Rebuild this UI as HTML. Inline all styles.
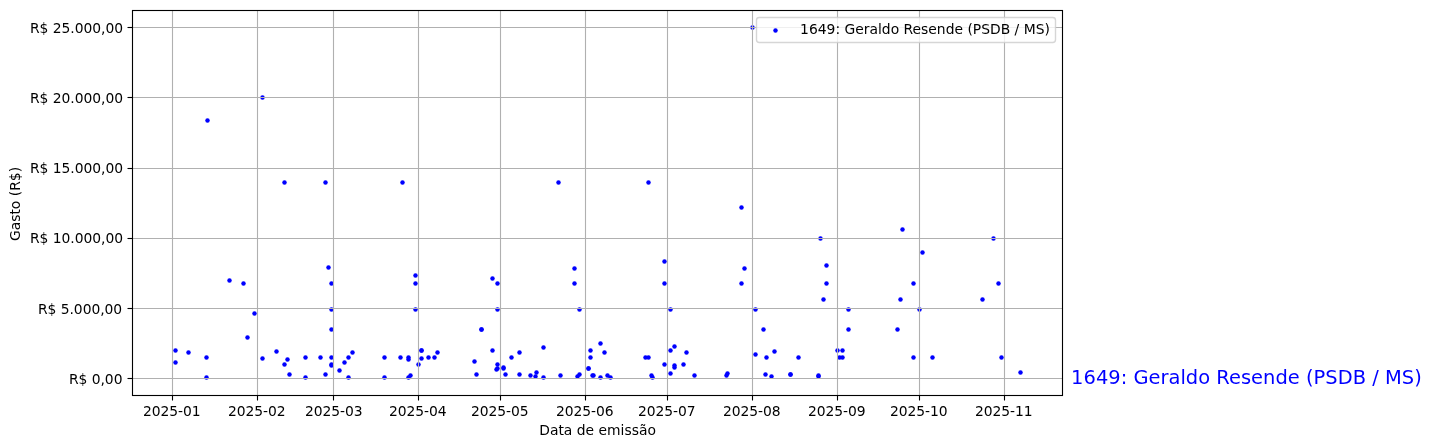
<!DOCTYPE html>
<html lang="pt-BR">
<head>
<meta charset="utf-8">
<title>1649: Geraldo Resende (PSDB / MS)</title>
<style>
html,body{margin:0;padding:0;background:#fff;}
body{width:1431px;height:448px;overflow:hidden;}
svg{display:block;}
text{font-family:"DejaVu Sans","Liberation Sans",sans-serif;font-size:13.889px;fill:#000;}
.g{stroke:#b0b0b0;stroke-width:1.11;fill:none;}
.s{stroke:#000;stroke-width:1.11;fill:none;stroke-linecap:square;}
.t{stroke:#000;stroke-width:1.11;fill:none;}
.p circle{fill:#0000ff;}
</style>
</head>
<body>
<svg width="1431" height="448" viewBox="0 0 1431 448">
<rect x="0" y="0" width="1431" height="448" fill="#ffffff"/>

<g class="p">
<circle cx="207.5" cy="120.5" r="2.25"/>
<circle cx="262.5" cy="97.5" r="2.25"/>
<circle cx="284.5" cy="182.5" r="2.25"/>
<circle cx="325.5" cy="182.5" r="2.25"/>
<circle cx="229.5" cy="280.5" r="2.25"/>
<circle cx="243.5" cy="283.5" r="2.25"/>
<circle cx="254.5" cy="313.5" r="2.25"/>
<circle cx="328.5" cy="267.5" r="2.25"/>
<circle cx="331.5" cy="283.5" r="2.25"/>
<circle cx="331.5" cy="309.5" r="2.25"/>
<circle cx="175.5" cy="350.5" r="2.25"/>
<circle cx="175.5" cy="362.5" r="2.25"/>
<circle cx="188.5" cy="352.5" r="2.25"/>
<circle cx="206.5" cy="357.5" r="2.25"/>
<circle cx="206.5" cy="377.5" r="2.25"/>
<circle cx="247.5" cy="337.5" r="2.25"/>
<circle cx="262.5" cy="358.5" r="2.25"/>
<circle cx="276.5" cy="351.5" r="2.25"/>
<circle cx="287.5" cy="359.5" r="2.25"/>
<circle cx="284.5" cy="364.5" r="2.25"/>
<circle cx="289.5" cy="374.5" r="2.25"/>
<circle cx="305.5" cy="357.5" r="2.25"/>
<circle cx="305.5" cy="377.5" r="2.25"/>
<circle cx="320.5" cy="357.5" r="2.25"/>
<circle cx="325.5" cy="374.5" r="2.25"/>
<circle cx="331.5" cy="329.5" r="2.25"/>
<circle cx="331.5" cy="357.5" r="2.25"/>
<circle cx="331.5" cy="364.5" r="2.25"/>
<circle cx="331.5" cy="365.5" r="2.25"/>
<circle cx="339.5" cy="370.5" r="2.25"/>
<circle cx="344.5" cy="362.5" r="2.25"/>
<circle cx="348.5" cy="357.5" r="2.25"/>
<circle cx="348.5" cy="377.5" r="2.25"/>
<circle cx="352.5" cy="352.5" r="2.25"/>
<circle cx="402.5" cy="182.5" r="2.25"/>
<circle cx="558.5" cy="182.5" r="2.25"/>
<circle cx="415.5" cy="275.5" r="2.25"/>
<circle cx="415.5" cy="283.5" r="2.25"/>
<circle cx="415.5" cy="309.5" r="2.25"/>
<circle cx="492.5" cy="278.5" r="2.25"/>
<circle cx="497.5" cy="283.5" r="2.25"/>
<circle cx="497.5" cy="309.5" r="2.25"/>
<circle cx="574.5" cy="268.5" r="2.25"/>
<circle cx="574.5" cy="283.5" r="2.25"/>
<circle cx="579.5" cy="309.5" r="2.25"/>
<circle cx="384.5" cy="357.5" r="2.25"/>
<circle cx="384.5" cy="377.5" r="2.25"/>
<circle cx="400.5" cy="357.5" r="2.25"/>
<circle cx="408.5" cy="357.5" r="2.25"/>
<circle cx="408.5" cy="359.5" r="2.25"/>
<circle cx="408.5" cy="377.5" r="2.25"/>
<circle cx="410.5" cy="375.5" r="2.25"/>
<circle cx="418.5" cy="364.5" r="2.25"/>
<circle cx="421.5" cy="350.5" r="2.25"/>
<circle cx="421.5" cy="350.5" r="2.25"/>
<circle cx="421.5" cy="358.5" r="2.25"/>
<circle cx="428.5" cy="357.5" r="2.25"/>
<circle cx="434.5" cy="357.5" r="2.25"/>
<circle cx="437.5" cy="352.5" r="2.25"/>
<circle cx="474.5" cy="361.5" r="2.25"/>
<circle cx="476.5" cy="374.5" r="2.25"/>
<circle cx="481.5" cy="329.5" r="2.25"/>
<circle cx="481.5" cy="329.5" r="2.25"/>
<circle cx="492.5" cy="350.5" r="2.25"/>
<circle cx="497.5" cy="364.5" r="2.25"/>
<circle cx="496.5" cy="369.5" r="2.25"/>
<circle cx="497.5" cy="368.5" r="2.25"/>
<circle cx="503.5" cy="367.5" r="2.25"/>
<circle cx="503.5" cy="368.5" r="2.25"/>
<circle cx="505.5" cy="374.5" r="2.25"/>
<circle cx="511.5" cy="357.5" r="2.25"/>
<circle cx="519.5" cy="352.5" r="2.25"/>
<circle cx="519.5" cy="374.5" r="2.25"/>
<circle cx="530.5" cy="375.5" r="2.25"/>
<circle cx="536.5" cy="372.5" r="2.25"/>
<circle cx="535.5" cy="376.5" r="2.25"/>
<circle cx="543.5" cy="347.5" r="2.25"/>
<circle cx="543.5" cy="377.5" r="2.25"/>
<circle cx="560.5" cy="375.5" r="2.25"/>
<circle cx="577.5" cy="376.5" r="2.25"/>
<circle cx="579.5" cy="374.5" r="2.25"/>
<circle cx="590.5" cy="350.5" r="2.25"/>
<circle cx="590.5" cy="357.5" r="2.25"/>
<circle cx="588.5" cy="368.5" r="2.25"/>
<circle cx="588.5" cy="368.5" r="2.25"/>
<circle cx="592.5" cy="375.5" r="2.25"/>
<circle cx="593.5" cy="375.5" r="2.25"/>
<circle cx="600.5" cy="377.5" r="2.25"/>
<circle cx="600.5" cy="343.5" r="2.25"/>
<circle cx="604.5" cy="352.5" r="2.25"/>
<circle cx="607.5" cy="375.5" r="2.25"/>
<circle cx="610.5" cy="377.5" r="2.25"/>
<circle cx="645.5" cy="357.5" r="2.25"/>
<circle cx="648.5" cy="357.5" r="2.25"/>
<circle cx="651.5" cy="375.5" r="2.25"/>
<circle cx="652.5" cy="377.5" r="2.25"/>
<circle cx="664.5" cy="364.5" r="2.25"/>
<circle cx="670.5" cy="350.5" r="2.25"/>
<circle cx="674.5" cy="346.5" r="2.25"/>
<circle cx="686.5" cy="352.5" r="2.25"/>
<circle cx="674.5" cy="365.5" r="2.25"/>
<circle cx="674.5" cy="367.5" r="2.25"/>
<circle cx="683.5" cy="364.5" r="2.25"/>
<circle cx="670.5" cy="373.5" r="2.25"/>
<circle cx="694.5" cy="375.5" r="2.25"/>
<circle cx="648.5" cy="182.5" r="2.25"/>
<circle cx="741.5" cy="207.5" r="2.25"/>
<circle cx="820.5" cy="238.5" r="2.25"/>
<circle cx="664.5" cy="261.5" r="2.25"/>
<circle cx="664.5" cy="283.5" r="2.25"/>
<circle cx="670.5" cy="309.5" r="2.25"/>
<circle cx="744.5" cy="268.5" r="2.25"/>
<circle cx="741.5" cy="283.5" r="2.25"/>
<circle cx="755.5" cy="309.5" r="2.25"/>
<circle cx="826.5" cy="265.5" r="2.25"/>
<circle cx="826.5" cy="283.5" r="2.25"/>
<circle cx="823.5" cy="299.5" r="2.25"/>
<circle cx="848.5" cy="309.5" r="2.25"/>
<circle cx="726.5" cy="375.5" r="2.25"/>
<circle cx="727.5" cy="373.5" r="2.25"/>
<circle cx="763.5" cy="329.5" r="2.25"/>
<circle cx="755.5" cy="354.5" r="2.25"/>
<circle cx="766.5" cy="357.5" r="2.25"/>
<circle cx="774.5" cy="351.5" r="2.25"/>
<circle cx="798.5" cy="357.5" r="2.25"/>
<circle cx="765.5" cy="374.5" r="2.25"/>
<circle cx="771.5" cy="376.5" r="2.25"/>
<circle cx="790.5" cy="374.5" r="2.25"/>
<circle cx="790.5" cy="374.5" r="2.25"/>
<circle cx="818.5" cy="375.5" r="2.25"/>
<circle cx="818.5" cy="376.5" r="2.25"/>
<circle cx="837.5" cy="350.5" r="2.25"/>
<circle cx="842.5" cy="350.5" r="2.25"/>
<circle cx="839.5" cy="357.5" r="2.25"/>
<circle cx="842.5" cy="357.5" r="2.25"/>
<circle cx="848.5" cy="329.5" r="2.25"/>
<circle cx="897.5" cy="329.5" r="2.25"/>
<circle cx="913.5" cy="357.5" r="2.25"/>
<circle cx="932.5" cy="357.5" r="2.25"/>
<circle cx="752.5" cy="27.5" r="2.25"/>
<circle cx="902.5" cy="229.5" r="2.25"/>
<circle cx="993.5" cy="238.5" r="2.25"/>
<circle cx="922.5" cy="252.5" r="2.25"/>
<circle cx="913.5" cy="283.5" r="2.25"/>
<circle cx="900.5" cy="299.5" r="2.25"/>
<circle cx="919.5" cy="309.5" r="2.25"/>
<circle cx="982.5" cy="299.5" r="2.25"/>
<circle cx="998.5" cy="283.5" r="2.25"/>
<circle cx="1001.5" cy="357.5" r="2.25"/>
<circle cx="1020.5" cy="372.5" r="2.25"/>
</g>
<g class="g">
<line x1="172.5" y1="10.5" x2="172.5" y2="395.5"/>
<line x1="257.5" y1="10.5" x2="257.5" y2="395.5"/>
<line x1="333.5" y1="10.5" x2="333.5" y2="395.5"/>
<line x1="418.5" y1="10.5" x2="418.5" y2="395.5"/>
<line x1="500.5" y1="10.5" x2="500.5" y2="395.5"/>
<line x1="585.5" y1="10.5" x2="585.5" y2="395.5"/>
<line x1="667.5" y1="10.5" x2="667.5" y2="395.5"/>
<line x1="752.5" y1="10.5" x2="752.5" y2="395.5"/>
<line x1="837.5" y1="10.5" x2="837.5" y2="395.5"/>
<line x1="919.5" y1="10.5" x2="919.5" y2="395.5"/>
<line x1="1004.5" y1="10.5" x2="1004.5" y2="395.5"/>
<line x1="132.5" y1="378.5" x2="1062.5" y2="378.5"/>
<line x1="132.5" y1="308.5" x2="1062.5" y2="308.5"/>
<line x1="132.5" y1="238.5" x2="1062.5" y2="238.5"/>
<line x1="132.5" y1="168.5" x2="1062.5" y2="168.5"/>
<line x1="132.5" y1="97.5" x2="1062.5" y2="97.5"/>
<line x1="132.5" y1="27.5" x2="1062.5" y2="27.5"/>
</g>
<g class="t">
<line x1="172.5" y1="395.5" x2="172.5" y2="400.5"/>
<line x1="257.5" y1="395.5" x2="257.5" y2="400.5"/>
<line x1="333.5" y1="395.5" x2="333.5" y2="400.5"/>
<line x1="418.5" y1="395.5" x2="418.5" y2="400.5"/>
<line x1="500.5" y1="395.5" x2="500.5" y2="400.5"/>
<line x1="585.5" y1="395.5" x2="585.5" y2="400.5"/>
<line x1="667.5" y1="395.5" x2="667.5" y2="400.5"/>
<line x1="752.5" y1="395.5" x2="752.5" y2="400.5"/>
<line x1="837.5" y1="395.5" x2="837.5" y2="400.5"/>
<line x1="919.5" y1="395.5" x2="919.5" y2="400.5"/>
<line x1="1004.5" y1="395.5" x2="1004.5" y2="400.5"/>
<line x1="127.5" y1="378.5" x2="132.5" y2="378.5"/>
<line x1="127.5" y1="308.5" x2="132.5" y2="308.5"/>
<line x1="127.5" y1="238.5" x2="132.5" y2="238.5"/>
<line x1="127.5" y1="168.5" x2="132.5" y2="168.5"/>
<line x1="127.5" y1="97.5" x2="132.5" y2="97.5"/>
<line x1="127.5" y1="27.5" x2="132.5" y2="27.5"/>
</g>
<rect class="s" x="132.5" y="10.5" width="930.0" height="385.0"/>
<text x="143.10" y="416" textLength="57.4" lengthAdjust="spacing">2025-01</text>
<text x="228.10" y="416" textLength="57.4" lengthAdjust="spacing">2025-02</text>
<text x="305.10" y="416" textLength="57.4" lengthAdjust="spacing">2025-03</text>
<text x="389.10" y="416" textLength="57.4" lengthAdjust="spacing">2025-04</text>
<text x="471.10" y="416" textLength="57.4" lengthAdjust="spacing">2025-05</text>
<text x="556.10" y="416" textLength="57.4" lengthAdjust="spacing">2025-06</text>
<text x="638.10" y="416" textLength="57.4" lengthAdjust="spacing">2025-07</text>
<text x="723.10" y="416" textLength="57.4" lengthAdjust="spacing">2025-08</text>
<text x="808.10" y="416" textLength="57.4" lengthAdjust="spacing">2025-09</text>
<text x="890.10" y="416" textLength="57.4" lengthAdjust="spacing">2025-10</text>
<text x="975.10" y="416" textLength="57.4" lengthAdjust="spacing">2025-11</text>
<text x="69.0" y="384" textLength="53.47" lengthAdjust="spacing">R$ 0,00</text>
<text x="38.0" y="314" textLength="84.13" lengthAdjust="spacing">R$ 5.000,00</text>
<text x="29.95" y="243" textLength="93.1" lengthAdjust="spacing">R$ 10.000,00</text>
<text x="29.95" y="173" textLength="93.1" lengthAdjust="spacing">R$ 15.000,00</text>
<text x="29.95" y="103" textLength="93.1" lengthAdjust="spacing">R$ 20.000,00</text>
<text x="29.95" y="33" textLength="93.1" lengthAdjust="spacing">R$ 25.000,00</text>
<text x="539.2" y="435" textLength="116.7" lengthAdjust="spacing">Data de emissão</text>
<text transform="translate(20,204) rotate(-90)" text-anchor="middle">Gasto (R$)</text>
<rect x="756.5" y="17.5" width="299" height="25" rx="2.78" ry="2.78" fill="#ffffff" fill-opacity="0.8" stroke="#cccccc" stroke-opacity="0.8" stroke-width="1.39"/>
<circle cx="775.5" cy="30.5" r="2.25" fill="#0000ff"/>
<text x="800.1" y="34">1649: Geraldo Resende (PSDB / MS)</text>
<text x="1071.1" y="384" textLength="350.64" lengthAdjust="spacing" style="font-size:19.444px;fill:#0000ff">1649: Geraldo Resende (PSDB / MS)</text>
</svg>
</body>
</html>
